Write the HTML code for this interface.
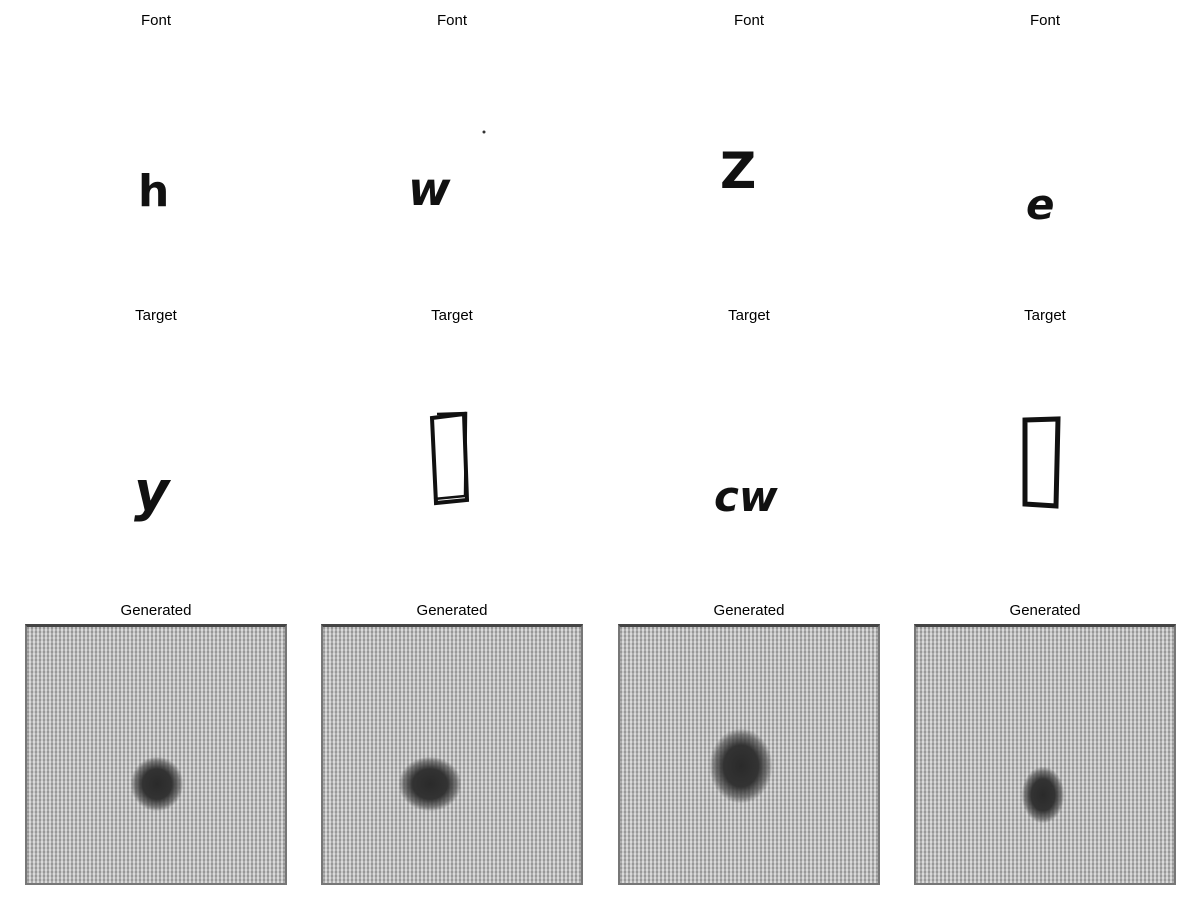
<!DOCTYPE html>
<html><head><meta charset="utf-8"><style>
body{margin:0;width:1200px;height:900px;background:#fff;position:relative;overflow:hidden;font-family:"Liberation Sans",sans-serif}
.t{position:absolute;font-size:15px;color:#000;text-align:center;width:262px}
.g{position:absolute;width:262px;height:261px;top:624px;box-sizing:border-box;border:2px solid #777;border-top:3px solid #444;
background:repeating-linear-gradient(90deg,#a0a0a0 0,#a0a0a0 2px,#d4d4d4 2px,#d4d4d4 4px)}
.g::after{content:"";position:absolute;inset:0;background:repeating-linear-gradient(0deg,rgba(255,255,255,.15) 0,rgba(255,255,255,.15) 2px,rgba(0,0,0,.05) 2px,rgba(0,0,0,.05) 4px)}
.b{position:absolute;border-radius:40%;background:radial-gradient(ellipse,#2a2a2a 0,#333 40%,rgba(70,70,70,.6) 60%,rgba(150,150,150,0) 72%)}
.h{position:absolute;font-family:"DejaVu Sans",sans-serif;color:#111;font-style:italic}
svg{position:absolute;left:0;top:0}
</style></head><body>
<div class="t" style="left:25px;top:12px">Font</div>
<div class="t" style="left:321px;top:12px">Font</div>
<div class="t" style="left:618px;top:12px">Font</div>
<div class="t" style="left:914px;top:12px">Font</div>
<div class="t" style="left:25px;top:307px">Target</div>
<div class="t" style="left:321px;top:307px">Target</div>
<div class="t" style="left:618px;top:307px">Target</div>
<div class="t" style="left:914px;top:307px">Target</div>
<div class="t" style="left:25px;top:602px">Generated</div>
<div class="t" style="left:321px;top:602px">Generated</div>
<div class="t" style="left:618px;top:602px">Generated</div>
<div class="t" style="left:914px;top:602px">Generated</div>

<div class="h" style="left:138px;top:166px;font-size:44px;font-weight:bold;font-style:normal">h</div>
<div class="h" style="left:408px;top:162px;font-size:46px;font-weight:bold">w</div>
<div class="h" style="left:720px;top:142px;font-size:50px;font-style:normal;font-weight:bold">Z</div>
<div class="h" style="left:1026px;top:180px;font-size:42px;font-weight:bold">e</div>
<div class="h" style="left:134px;top:460px;font-size:54px;font-weight:bold">y</div>
<div class="h" style="left:714px;top:472px;font-size:42px;font-weight:bold">cw</div>

<svg width="1200" height="620">
<circle cx="484" cy="132" r="1.5" fill="#333"/>
<path d="M432 418 L464 414 L467 500 L436 503 Z" fill="none" stroke="#111" stroke-width="4"/>
<path d="M437 414 L466 413 L465 496 L434 499" fill="none" stroke="#111" stroke-width="2.5"/>
<path d="M1025 420 L1058 419 L1056 506 L1025 504 Z" fill="none" stroke="#111" stroke-width="5"/>
</svg>

<div class="g" style="left:25px"><div class="b" style="left:104px;top:130px;width:52px;height:54px;z-index:1"></div></div>
<div class="g" style="left:321px"><div class="b" style="left:76px;top:130px;width:62px;height:54px;z-index:1"></div></div>
<div class="g" style="left:618px"><div class="b" style="left:90px;top:102px;width:62px;height:74px;z-index:1"></div></div>
<div class="g" style="left:914px"><div class="b" style="left:106px;top:140px;width:42px;height:56px;z-index:1"></div></div>
</body></html>
